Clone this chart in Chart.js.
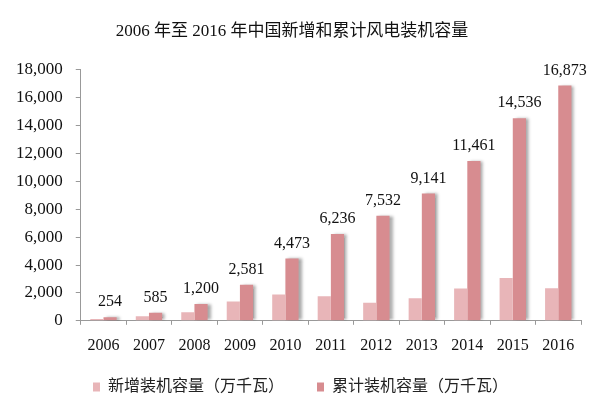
<!DOCTYPE html>
<html lang="zh">
  <head>
    <meta charset="UTF-8" />
    <title>2006年至2016年中国新增和累计风电装机容量</title>
    <style>
      html, body { margin: 0; padding: 0; background: #fff; }
      .wrap { width: 605px; height: 407px; }
    </style>
  </head>
  <body>
    <div class="wrap">
      <canvas id="myChart" width="605" height="407"></canvas>
    </div>
    <script src="https://cdn.jsdelivr.net/npm/chart.js@4"></script>
    <script>
      // 数据
      var years = ["2006", "2007", "2008", "2009", "2010", "2011", "2012", "2013", "2014", "2015", "2016"];
      var newCap = [134, 331, 615, 1380, 1893, 1763, 1296, 1609, 2320, 3075, 2337];
      var totalCap = [254, 585, 1200, 2581, 4473, 6236, 7532, 9141, 11461, 14536, 16873];
      var seriesNames = ["新增装机容量（万千瓦）", "累计装机容量（万千瓦）"];
      var yTicks = [0, 2000, 4000, 6000, 8000, 10000, 12000, 14000, 16000, 18000];

      var fontFam = "'Liberation Serif', 'Noto Sans CJK SC', serif";

      // 累计柱右侧阴影
      var shadowPlugin = {
        id: "barShadow",
        beforeDatasetDraw: function (chart, args) {
          if (args.index === 1) {
            var c = chart.ctx;
            c.save();
            c.shadowColor = "rgba(0,0,0,0.35)";
            c.shadowBlur = 3;
            c.shadowOffsetX = 3;
            c.shadowOffsetY = 0;
          }
        },
        afterDatasetDraw: function (chart, args) {
          if (args.index === 1) chart.ctx.restore();
        }
      };

      // 累计柱顶端的数值
      var labelPlugin = {
        id: "topLabels",
        afterDatasetsDraw: function (chart) {
          var c = chart.ctx;
          var meta = chart.getDatasetMeta(1);
          c.save();
          c.font = "16px " + fontFam;
          c.fillStyle = "#111";
          c.textAlign = "center";
          c.textBaseline = "bottom";
          meta.data.forEach(function (bar, i) {
            c.fillText(totalCap[i].toLocaleString("en-US"), bar.x, bar.y - 7);
          });
          c.restore();
        }
      };

      var ctx = document.getElementById("myChart");
      var myChart = new Chart(ctx, {
        type: "bar",
        data: {
          labels: years,
          datasets: [
            {
              label: seriesNames[0],
              data: newCap,
              backgroundColor: "#e8b5b8",
              barPercentage: 1,
              categoryPercentage: 0.58
            },
            {
              label: seriesNames[1],
              data: totalCap,
              backgroundColor: "#d78c90",
              barPercentage: 1,
              categoryPercentage: 0.58
            }
          ]
        },
        options: {
          responsive: false,
          animation: false,
          layout: { padding: { left: 3, right: 24, top: 4, bottom: 2 } },
          plugins: {
            title: {
              display: true,
              text: "2006 年至 2016 年中国新增和累计风电装机容量",
              color: "#111",
              font: { family: fontFam, size: 17, weight: "normal" },
              padding: { top: 17.5, bottom: 28 }
            },
            legend: {
              position: "bottom",
              align: "end",
              labels: {
                color: "#222",
                font: { family: fontFam, size: 16 },
                boxWidth: 7,
                boxHeight: 9,
                padding: 13,
                generateLabels: function (chart) {
                  var items = Chart.defaults.plugins.legend.labels.generateLabels(chart);
                  // 图例两项之间留空
                  items[0].text = items[0].text + "\u3000   ";
                  items[1].text = items[1].text + "\u3000\u3000\u3000\u3000 ";
                  return items;
                }
              }
            },
            tooltip: { enabled: false }
          },
          scales: {
            x: {
              offset: true,
              grid: {
                offset: true,
                drawOnChartArea: false,
                drawTicks: true,
                tickLength: 4,
                color: "#999"
              },
              border: { color: "#999" },
              ticks: {
                color: "#111",
                font: { family: fontFam, size: 16 },
                padding: 11,
                maxRotation: 0
              }
            },
            y: {
              min: 0,
              max: 18000,
              afterBuildTicks: function (axis) {
                axis.ticks = yTicks.map(function (v) { return { value: v }; });
              },
              grid: {
                drawOnChartArea: false,
                drawTicks: true,
                tickLength: 5,
                color: "#999"
              },
              border: { color: "#999" },
              ticks: {
                color: "#111",
                font: { family: fontFam, size: 17 },
                padding: 13,
                callback: function (v) { return v.toLocaleString("en-US"); }
              }
            }
          }
        },
        plugins: [shadowPlugin, labelPlugin]
      });
    </script>
  </body>
</html>
